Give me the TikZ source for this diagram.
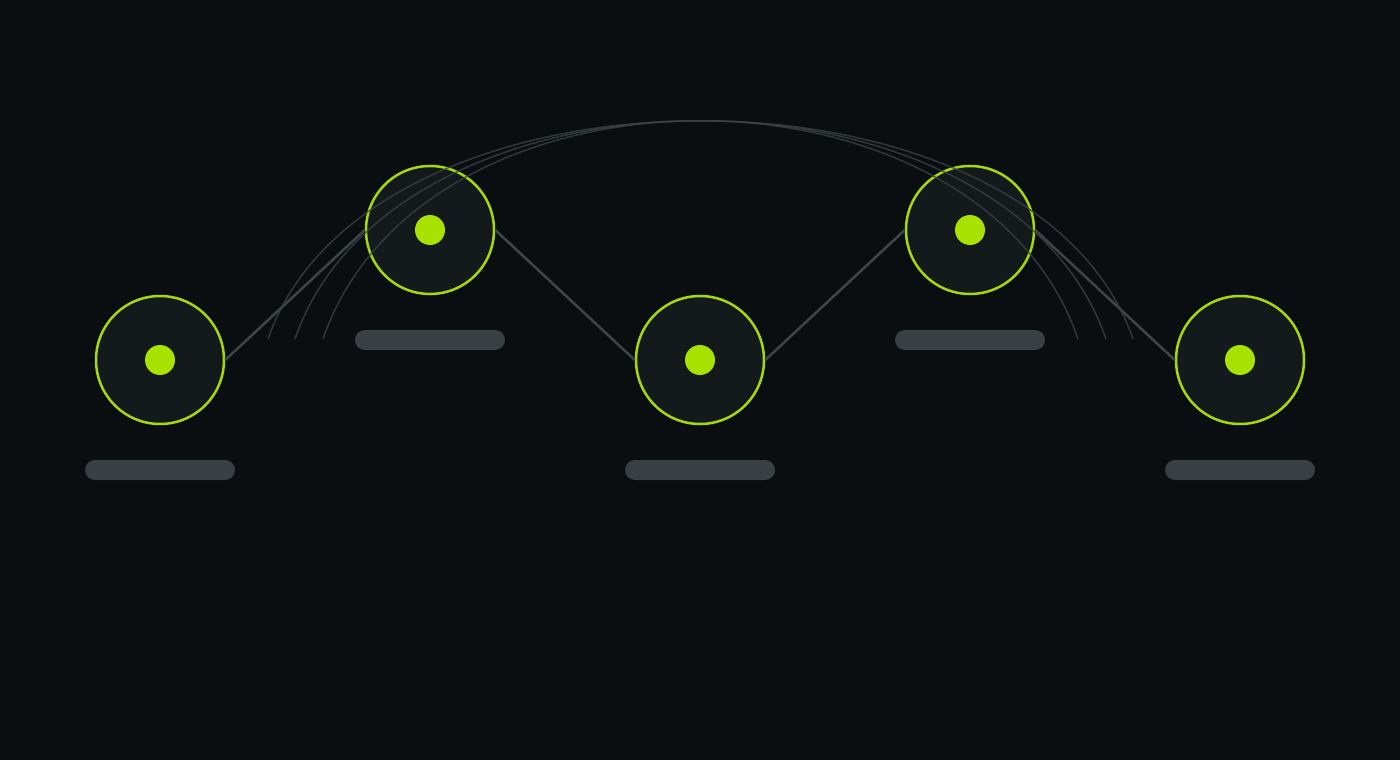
\documentclass[tikz,border=0pt]{standalone}
\definecolor{bgc}{HTML}{0B0E10}
\definecolor{ringc}{HTML}{A6D80F}
\definecolor{ringfill}{HTML}{14191C}
\definecolor{dotc}{HTML}{A8E200}
\definecolor{barc}{HTML}{394043}
\definecolor{linkc}{HTML}{3E4548}
\definecolor{arcc}{HTML}{3A4245}
\tikzset{
  ring/.style={circle, draw=ringc, line width=2.5pt, fill=ringfill, minimum size=128pt, inner sep=0pt},
  dotnode/.style={circle, fill=dotc, minimum size=30pt, inner sep=0pt},
  barnode/.style={rectangle, rounded corners=10pt, fill=barc, minimum width=150pt, minimum height=20pt, inner sep=0pt},
  link/.style={draw=linkc, line width=2.5pt},
  arcline/.style={draw=arcc, line width=1.5pt, opacity=0.8},
}
\begin{document}
\begin{tikzpicture}[x=1pt, y=-1pt]
\fill[bgc] (0,0) rectangle (1400,760);
\useasboundingbox (0,0) rectangle (1400,760);
% bars
\node[barnode] (b1) at (160,470) {};
\node[barnode] (b2) at (430,340) {};
\node[barnode] (b3) at (700,470) {};
\node[barnode] (b4) at (970,340) {};
\node[barnode] (b5) at (1240,470) {};
% rings
\node[ring] (n1) at (160,360) {};
\node[ring] (n2) at (430,230) {};
\node[ring] (n3) at (700,360) {};
\node[ring] (n4) at (970,230) {};
\node[ring] (n5) at (1240,360) {};
% links
\draw[link] (n1.east) -- (n2.west);
\draw[link] (n2.east) -- (n3.west);
\draw[link] (n3.east) -- (n4.west);
\draw[link] (n4.east) -- (n5.west);
% dots
\node[dotnode] (d1) at (n1) {};
\node[dotnode] (d2) at (n2) {};
\node[dotnode] (d3) at (n3) {};
\node[dotnode] (d4) at (n4) {};
\node[dotnode] (d5) at (n5) {};
% arcs
\coordinate (aL1) at (268,339);
\coordinate (aR1) at (1133,339);
\coordinate (aL2) at (295,339);
\coordinate (aR2) at (1106,339);
\coordinate (aL3) at (323,339);
\coordinate (aR3) at (1078,339);
\draw[arcline] (aL1) .. controls (368,48) and (1033,48) .. (aR1);
\draw[arcline] (aL2) .. controls (395,48) and (1006,48) .. (aR2);
\draw[arcline] (aL3) .. controls (423,48) and (978,48) .. (aR3);
\end{tikzpicture}
\end{document}
